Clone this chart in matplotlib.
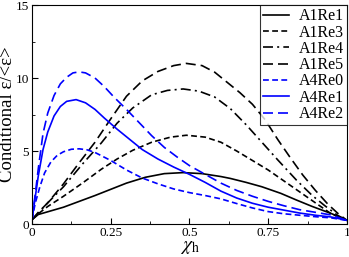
import matplotlib
matplotlib.use("Agg")
import matplotlib.pyplot as plt
from matplotlib.ticker import MultipleLocator

plt.rcParams['font.family'] = ['Liberation Serif', 'DejaVu Serif']
plt.rcParams['mathtext.fontset'] = 'stix'

# values
x_a1re1 = [0, 0.02, 0.1, 0.2, 0.3, 0.36, 0.42, 0.48, 0.54, 0.6, 0.63, 0.68, 0.73, 0.79, 0.84, 0.89, 0.95, 0.98, 1.0]
y_a1re1 = [0.3, 0.65, 1.15, 1.95, 2.8, 3.2, 3.45, 3.52, 3.45, 3.25, 3.12, 2.85, 2.55, 2.1, 1.64, 1.2, 0.72, 0.45, 0.25]

x_a1re3 = [0, 0.02, 0.05, 0.1, 0.16, 0.22, 0.27, 0.32, 0.38, 0.44, 0.49, 0.55, 0.6, 0.65, 0.7, 0.75, 0.8, 0.85, 0.9, 0.95, 1.0]
y_a1re3 = [0.3, 0.7, 1.2, 1.9, 2.8, 3.75, 4.45, 5.05, 5.6, 5.95, 6.08, 5.95, 5.6, 5.0, 4.35, 3.7, 2.95, 2.2, 1.45, 0.7, 0.25]

x_a1re4 = [0, 0.02, 0.05, 0.1, 0.16, 0.22, 0.27, 0.32, 0.38, 0.43, 0.48, 0.53, 0.58, 0.63, 0.68, 0.73, 0.78, 0.84, 0.89, 0.93, 0.97, 1.0]
y_a1re4 = [0.3, 0.75, 1.45, 2.55, 4.1, 5.55, 6.9, 7.95, 8.85, 9.15, 9.25, 9.1, 8.7, 7.9, 6.8, 5.6, 4.4, 3.0, 1.95, 1.25, 0.6, 0.25]

x_a1re5 = [0, 0.02, 0.05, 0.1, 0.15, 0.2, 0.25, 0.3, 0.35, 0.4, 0.45, 0.49, 0.54, 0.58, 0.62, 0.66, 0.7, 0.74, 0.78, 0.82, 0.86, 0.9, 0.94, 0.97, 1.0]
y_a1re5 = [0.3, 0.8, 1.45, 2.75, 4.2, 5.6, 7.2, 8.75, 9.8, 10.45, 10.85, 11.0, 10.85, 10.4, 9.7, 9.0, 8.2, 7.15, 5.8, 4.55, 3.35, 2.3, 1.35, 0.75, 0.25]

x_a4re0 = [0, 0.01, 0.025, 0.04, 0.06, 0.08, 0.1, 0.125, 0.15, 0.175, 0.2, 0.25, 0.3, 0.35, 0.4, 0.45, 0.5, 0.55, 0.6, 0.65, 0.7, 0.75, 0.8, 0.85, 0.9, 0.95, 1.0]
y_a4re0 = [0.3, 1.4, 2.55, 3.5, 4.25, 4.7, 4.95, 5.12, 5.15, 5.08, 4.9, 4.35, 3.7, 3.15, 2.75, 2.4, 2.15, 1.95, 1.72, 1.4, 1.1, 0.85, 0.7, 0.6, 0.5, 0.42, 0.25]

x_a4re1 = [0, 0.01, 0.02, 0.035, 0.05, 0.07, 0.09, 0.11, 0.14, 0.17, 0.2, 0.23, 0.27, 0.31, 0.35, 0.4, 0.45, 0.5, 0.55, 0.6, 0.65, 0.7, 0.75, 0.8, 0.85, 0.9, 0.95, 1.0]
y_a4re1 = [0.3, 1.8, 3.3, 5.1, 6.3, 7.4, 8.05, 8.4, 8.52, 8.3, 7.85, 7.25, 6.5, 5.8, 5.1, 4.45, 3.9, 3.4, 2.85, 2.25, 1.78, 1.42, 1.15, 0.95, 0.75, 0.6, 0.48, 0.25]

x_a4re2 = [0, 0.01, 0.02, 0.035, 0.05, 0.07, 0.09, 0.11, 0.13, 0.15, 0.17, 0.2, 0.23, 0.26, 0.3, 0.34, 0.38, 0.42, 0.46, 0.5, 0.55, 0.6, 0.65, 0.7, 0.75, 0.8, 0.85, 0.9, 0.95, 1.0]
y_a4re2 = [0.3, 2.0, 3.8, 6.2, 7.6, 8.8, 9.6, 10.05, 10.35, 10.42, 10.35, 10.0, 9.4, 8.7, 7.85, 6.95, 6.05, 5.25, 4.6, 4.0, 3.4, 2.8, 2.3, 1.9, 1.55, 1.25, 0.98, 0.8, 0.62, 0.25]

x_ticks = [0, 0.25, 0.5, 0.75, 1]
x_tick_labels = ['0', '0.25', '0.5', '0.75', '1']
y_ticks = [0, 5, 10, 15]

fig = plt.figure(figsize=(3.49, 2.57), dpi=100)
ax = fig.add_axes([0.0917, 0.1284, 0.9023, 0.8521])

blue = '#0000ff'
lw = 1.2
ax.plot(x_a1re1, y_a1re1, color='black', lw=lw, label='A1Re1')
ax.plot(x_a1re3, y_a1re3, color='black', lw=lw, dashes=(3.5, 2), label='A1Re3')
ax.plot(x_a1re4, y_a1re4, color='black', lw=lw, dashes=(6, 2.5, 1.2, 2.5), label='A1Re4')
ax.plot(x_a1re5, y_a1re5, color='black', lw=lw, dashes=(6, 3), label='A1Re5')
ax.plot(x_a4re0, y_a4re0, color=blue, lw=lw, dashes=(3.5, 2), label='A4Re0')
ax.plot(x_a4re1, y_a4re1, color=blue, lw=lw, label='A4Re1')
ax.plot(x_a4re2, y_a4re2, color=blue, lw=lw, dashes=(6, 3), label='A4Re2')

ax.set_xlim(0, 1)
ax.set_ylim(0, 15)
ax.set_xticks(x_ticks)
ax.set_xticklabels(x_tick_labels)
ax.set_yticks(y_ticks)
ax.xaxis.set_minor_locator(MultipleLocator(0.125))
ax.yaxis.set_minor_locator(MultipleLocator(2.5))
ax.tick_params(which='both', direction='in', top=False, right=False, labelsize=9.5, pad=2)
ax.tick_params(which='major', length=4)
ax.tick_params(which='minor', length=2.5)

ax.set_xlabel(r'$\chi_{\rm h}$', fontsize=14, labelpad=0)
ax.set_ylabel('Conditional ε/<ε>', fontsize=13.5)
ax.yaxis.set_label_coords(-0.052, 0.5)

leg = ax.legend(loc='upper right', fontsize=11.5, frameon=True, fancybox=False,
                borderaxespad=0, handlelength=1.6, handletextpad=0.6,
                labelspacing=0.02, borderpad=0.2)
leg.get_frame().set_edgecolor('black')
leg.get_frame().set_linewidth(0.8)

fig.savefig('out.png', dpi=100)
